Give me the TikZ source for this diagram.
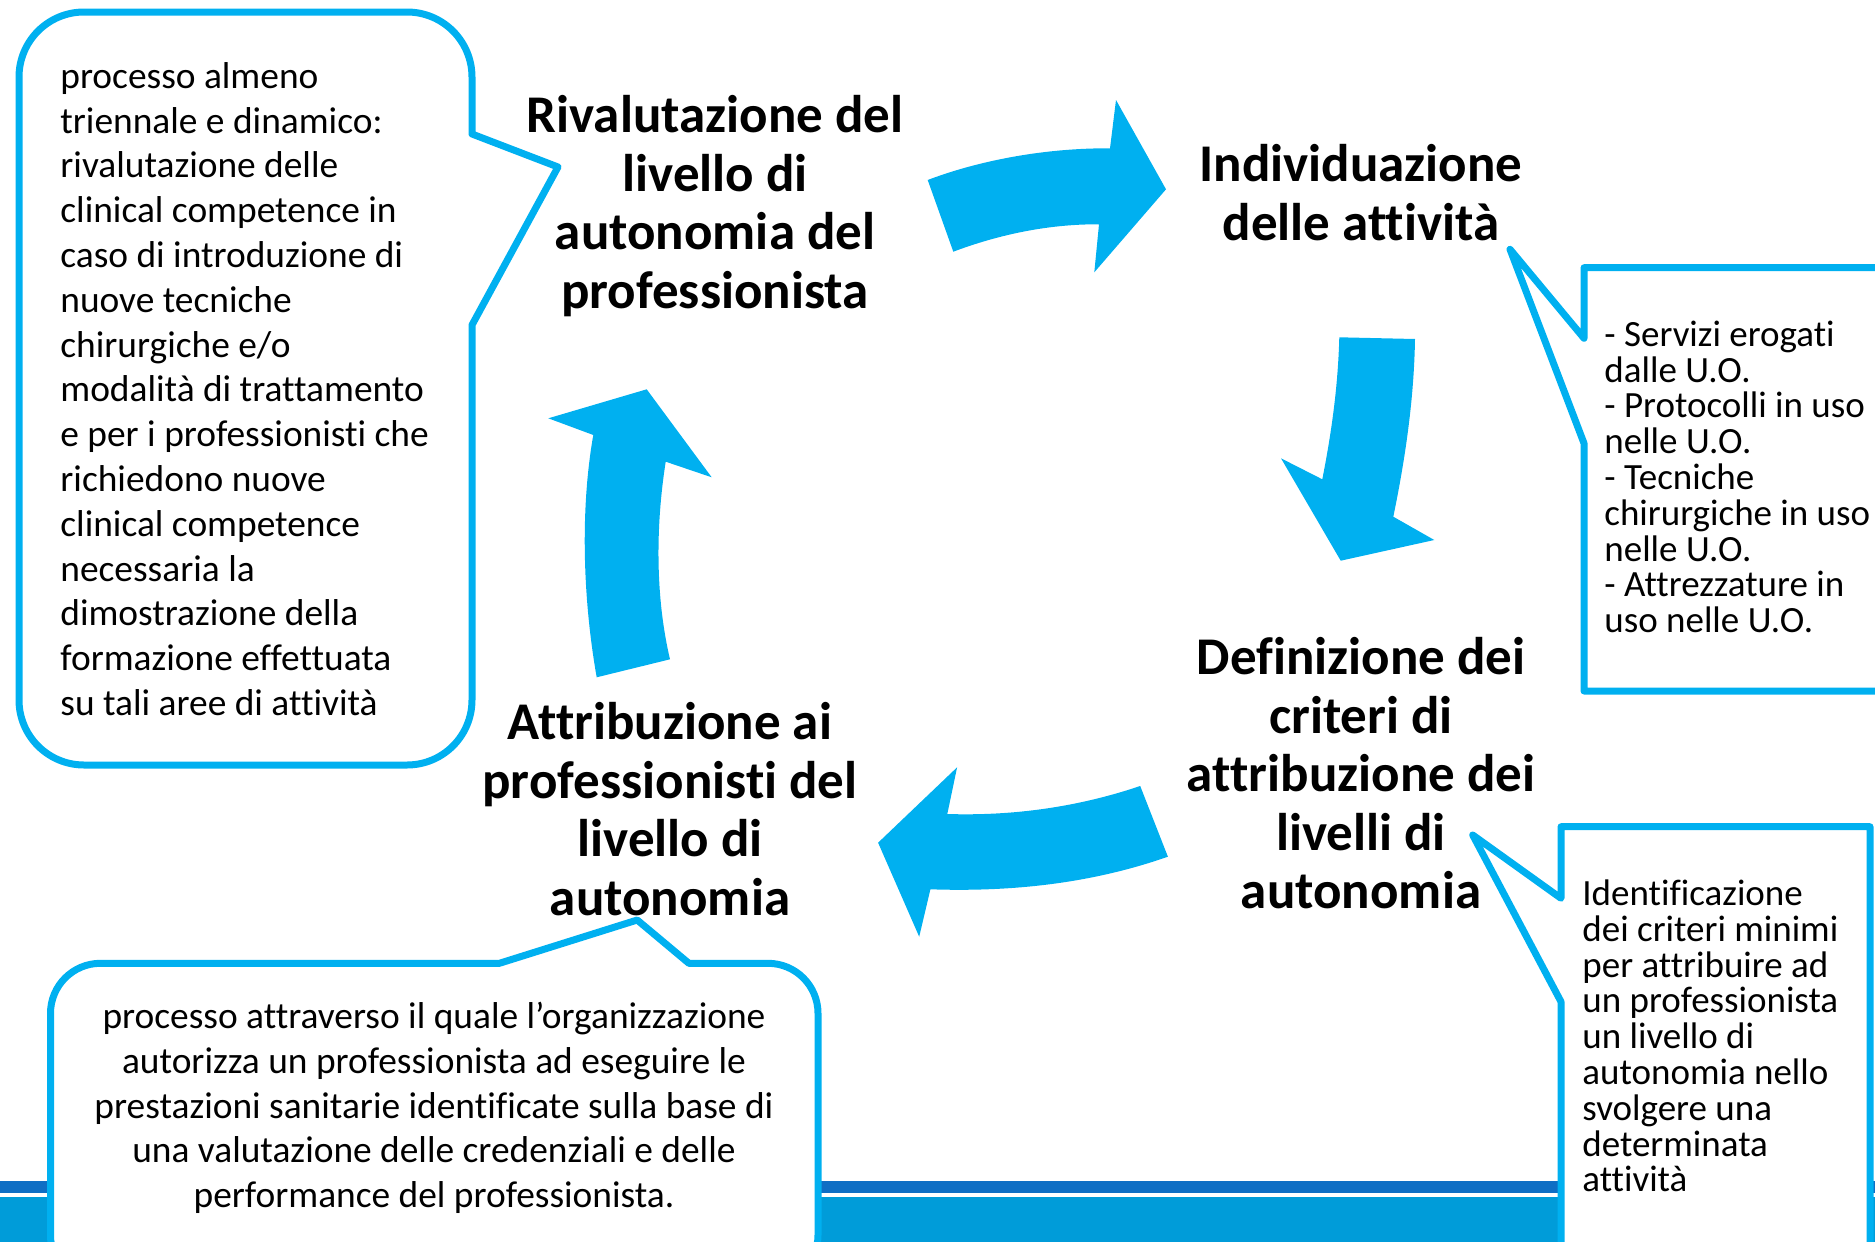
\documentclass[tikz,border=0pt]{standalone}
\usepackage{fontspec}
\setmainfont{Carlito}[Ligatures=NoCommon]
\definecolor{cyanb}{HTML}{00B0F0}
\definecolor{stripedark}{HTML}{0F6EC4}
\definecolor{stripelight}{HTML}{009CD9}
\tikzset{
 callout/.style={draw=cyanb, line width=3.5pt, fill=white, line join=round},
 blockarrow/.style={fill=cyanb, draw=none},
 titletext/.style={font=\bfseries\fontsize{26.5}{29.25}\selectfont, align=center, inner sep=0pt},
 bodytext/.style={font=\fontsize{18.7}{22.4}\selectfont, inner sep=0pt},
 smalltext/.style={font=\fontsize{18.5}{17.9}\selectfont, inner sep=0pt, align=left},
}
\begin{document}
\begin{tikzpicture}[x=0.5pt,y=-0.5pt]
\useasboundingbox (0,0) rectangle (1875,1242);
\clip (0,0) rectangle (1875,1242);
% bottom stripe
\fill[stripedark] (0,1181) rectangle (1875,1193);
\fill[stripelight] (0,1197) rectangle (1875,1242);

% top-left callout
\draw[callout] (19,400) [rounded corners=32.5pt] -- (19,12) -- (472,12) [sharp corners] -- (472,134) -- (558,167) -- (472,325) [rounded corners=32.5pt] -- (472,765) -- (19,765) -- cycle;
\node[bodytext, anchor=west, align=left] (tltext) at (60,389) {processo almeno\\triennale e dinamico:\\rivalutazione delle\\clinical competence in\\caso di introduzione di\\nuove tecniche\\chirurgiche e/o\\modalità di trattamento\\e per i professionisti che\\richiedono nuove\\clinical competence\\necessaria la\\dimostrazione della\\formazione effettuata\\su tali aree di attività};

% top-right callout
\draw[callout] (1584,300) -- (1584,267.7) -- (1900,267.7) -- (1900,691) -- (1584,691) -- (1584,443.3) -- (1510,249.3) -- (1584,338.3) -- cycle;
\node[smalltext, anchor=west] (trtext) at (1604,477) {- Servizi erogati\\dalle U.O.\\- Protocolli in uso\\nelle U.O.\\- Tecniche\\chirurgiche in uso\\nelle U.O.\\- Attrezzature in\\uso nelle U.O.};

% bottom-right callout
\draw[callout] (1561,860) -- (1561,826.7) -- (1870,826.7) -- (1870,1300) -- (1561,1300) -- (1561,1001.7) -- (1472.7,835) -- (1561,898.3) -- cycle;
\node[smalltext, anchor=west] (brtext) at (1582,1036) {Identificazione\\dei criteri minimi\\per attribuire ad\\un professionista\\un livello di\\autonomia nello\\svolgere una\\determinata\\attività};

% bottom-left callout
\draw[callout] (50.5,1100) [rounded corners=25pt] -- (50.5,963.3) [sharp corners] -- (499.4,963.3) -- (637.2,920) -- (688.9,963.3) [rounded corners=25pt] -- (818,963.3) -- (818,1285) -- (50.5,1285) -- cycle;
\node[bodytext, align=center] (bltext) at (434,1108) {processo attraverso il quale l’organizzazione\\autorizza un professionista ad eseguire le\\prestazioni sanitarie identificate sulla base di\\una valutazione delle credenziali e delle\\performance del professionista.};

% titles
\node[titletext] (riv) at (715,206) {Rivalutazione del\\livello di\\autonomia del\\professionista};
\node[titletext] (ind) at (1361,192.5) {Individuazione\\delle attività};
\node[titletext] (def) at (1361,773.5) {Definizione dei\\criteri di\\attribuzione dei\\livelli di\\autonomia};
\node[titletext] (att) at (670,809) {Attribuzione ai\\professionisti del\\livello di\\autonomia};

% block arrows
\fill[blockarrow] (927.7,180) .. controls (975,162) and (1040,148) .. (1110,148.3) -- (1116,100) -- (1166,189.3) -- (1094.3,272.3) -- (1099,224.3) .. controls (1045,224) and (995,236) .. (953.3,251.7) -- cycle;
\fill[blockarrow] (1339.3,337.3) -- (1415,339) .. controls (1414,400) and (1405,460) .. (1393.3,516.7) -- (1434.3,540) -- (1340.7,560.7) -- (1281,458.3) -- (1322.3,479.3) .. controls (1332,430) and (1338,385) .. (1339.3,337.3) -- cycle;
\fill[blockarrow] (1140.2,786) .. controls (1075,808) and (1010,816) .. (947.3,814) -- (957.1,767.3) -- (878.1,842.7) -- (919.2,936.7) -- (930.4,889.3) .. controls (1010,892) and (1090,884) .. (1167.9,856.7) -- cycle;
\fill[blockarrow] (596.7,677.3) .. controls (583,600) and (580,510) .. (593.3,435) -- (548.3,418.3) -- (646.7,389.3) -- (711.7,477.3) -- (665.7,461.7) .. controls (655,530) and (656,600) .. (670,659.3) -- cycle;
\end{tikzpicture}
\end{document}
